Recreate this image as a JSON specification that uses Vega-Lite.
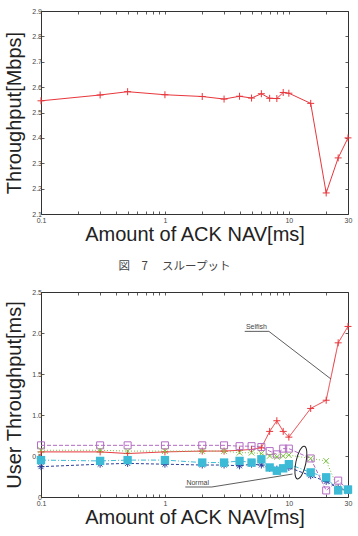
{
  "$schema": "https://vega.github.io/schema/vega-lite/v6.json",
  "background": "white",
  "padding": {"left": 4, "top": 6, "right": 4, "bottom": 4},
  "spacing": 78,
  "bounds": "flush",
  "config": {
    "view": {"stroke": "#333", "strokeWidth": 1},
    "axis": {
      "grid": false,
      "domain": false,
      "labelFont": "Liberation Sans",
      "labelFontSize": 7,
      "labelColor": "#444",
      "labelPadding": 5,
      "labelFlush": false,
      "labelOverlap": false,
      "tickColor": "#333",
      "tickSize": -3,
      "tickWidth": 0.8,
      "titleFont": "Liberation Sans",
      "titleFontSize": 20,
      "titleFontWeight": "normal",
      "titleColor": "#222"
    },
    "axisX": {"titlePadding": 1, "labelPadding": 5},
    "axisY": {"titlePadding": 7, "labelPadding": 2.5}
  },
  "vconcat": [
    {
      "width": 307,
      "height": 203,
      "data": {
        "values": [
          {"nav": 0.1, "thr": 2.546},
          {"nav": 0.3, "thr": 2.569},
          {"nav": 0.5, "thr": 2.582},
          {"nav": 1, "thr": 2.570},
          {"nav": 2, "thr": 2.563},
          {"nav": 3, "thr": 2.553},
          {"nav": 4, "thr": 2.564},
          {"nav": 5, "thr": 2.557},
          {"nav": 6, "thr": 2.574},
          {"nav": 7, "thr": 2.556},
          {"nav": 8, "thr": 2.555},
          {"nav": 9, "thr": 2.579},
          {"nav": 10, "thr": 2.576},
          {"nav": 15, "thr": 2.536},
          {"nav": 20, "thr": 2.183},
          {"nav": 25, "thr": 2.321},
          {"nav": 30, "thr": 2.400}
        ]
      },
      "layer": [
        {
          "mark": {"type": "line", "color": "#e8363c", "strokeWidth": 1},
          "encoding": {
            "x": {
              "field": "nav", "type": "quantitative",
              "scale": {"type": "log", "domain": [0.1, 30], "nice": false},
              "axis": {
                "title": "Amount of ACK NAV[ms]",
                "values": [0.1, 0.2, 0.3, 0.4, 0.5, 0.6, 0.7, 0.8, 0.9, 1, 2, 3, 4, 5, 6, 7, 8, 9, 10, 20, 30],
                "labelExpr": "datum.value == 0.1 ? '0.1' : datum.value == 1 ? '1' : datum.value == 10 ? '10' : datum.value == 30 ? '30' : ''"
              }
            },
            "y": {
              "field": "thr", "type": "quantitative",
              "scale": {"domain": [2.1, 2.9], "nice": false, "zero": false},
              "axis": {
                "title": "Throughput[Mbps]",
                "values": [2.1, 2.2, 2.3, 2.4, 2.5, 2.6, 2.7, 2.8, 2.9],
                "labelExpr": "format(datum.value, '.1f')"
              }
            }
          }
        },
        {
          "mark": {"type": "point", "shape": "M-1,0H1M0,-1V1", "filled": false, "size": 49, "color": "#e8363c", "strokeWidth": 1, "opacity": 1},
          "encoding": {
            "x": {
              "field": "nav", "type": "quantitative",
              "axis": {"orient": "top", "labels": false, "title": null, "values": [0.1, 0.2, 0.3, 0.4, 0.5, 0.6, 0.7, 0.8, 0.9, 1, 2, 3, 4, 5, 6, 7, 8, 9, 10, 20, 30]}
            },
            "y": {
              "field": "thr", "type": "quantitative",
              "axis": {"orient": "right", "labels": false, "title": null, "values": [2.1, 2.2, 2.3, 2.4, 2.5, 2.6, 2.7, 2.8, 2.9]}
            }
          }
        }
      ],
      "resolve": {"axis": {"x": "independent", "y": "independent"}}
    },
    {
      "width": 307,
      "height": 205,
      "title": {
        "text": "図　7　 スループット",
        "orient": "top",
        "anchor": "middle",
        "dx": -20,
        "offset": 16,
        "font": "Noto Sans CJK JP",
        "fontSize": 11.5,
        "fontWeight": "normal",
        "color": "#444"
      },
      "data": {
        "values": [
          {"nav": 0.1, "node": "Selfish", "thr": 0.55},
          {"nav": 0.3, "node": "Selfish", "thr": 0.55},
          {"nav": 0.5, "node": "Selfish", "thr": 0.53},
          {"nav": 1, "node": "Selfish", "thr": 0.55},
          {"nav": 2, "node": "Selfish", "thr": 0.56},
          {"nav": 3, "node": "Selfish", "thr": 0.56},
          {"nav": 4, "node": "Selfish", "thr": 0.57},
          {"nav": 5, "node": "Selfish", "thr": 0.58},
          {"nav": 6, "node": "Selfish", "thr": 0.60},
          {"nav": 7, "node": "Selfish", "thr": 0.80},
          {"nav": 8, "node": "Selfish", "thr": 0.93},
          {"nav": 9, "node": "Selfish", "thr": 0.80},
          {"nav": 10, "node": "Selfish", "thr": 0.73},
          {"nav": 15, "node": "Selfish", "thr": 1.08},
          {"nav": 20, "node": "Selfish", "thr": 1.18},
          {"nav": 25, "node": "Selfish", "thr": 1.88},
          {"nav": 30, "node": "Selfish", "thr": 2.08},

          {"nav": 0.1, "node": "Normal 1", "thr": 0.63},
          {"nav": 0.3, "node": "Normal 1", "thr": 0.63},
          {"nav": 0.5, "node": "Normal 1", "thr": 0.63},
          {"nav": 1, "node": "Normal 1", "thr": 0.63},
          {"nav": 2, "node": "Normal 1", "thr": 0.63},
          {"nav": 3, "node": "Normal 1", "thr": 0.63},
          {"nav": 4, "node": "Normal 1", "thr": 0.62},
          {"nav": 5, "node": "Normal 1", "thr": 0.62},
          {"nav": 6, "node": "Normal 1", "thr": 0.61},
          {"nav": 7, "node": "Normal 1", "thr": 0.56},
          {"nav": 8, "node": "Normal 1", "thr": 0.52},
          {"nav": 9, "node": "Normal 1", "thr": 0.59},
          {"nav": 10, "node": "Normal 1", "thr": 0.59},
          {"nav": 15, "node": "Normal 1", "thr": 0.47},
          {"nav": 20, "node": "Normal 1", "thr": 0.08},
          {"nav": 25, "node": "Normal 1", "thr": 0.20},
          {"nav": 30, "node": "Normal 1", "thr": 0.09},

          {"nav": 0.1, "node": "Normal 2", "thr": 0.57},
          {"nav": 0.3, "node": "Normal 2", "thr": 0.57},
          {"nav": 0.5, "node": "Normal 2", "thr": 0.56},
          {"nav": 1, "node": "Normal 2", "thr": 0.56},
          {"nav": 2, "node": "Normal 2", "thr": 0.56},
          {"nav": 3, "node": "Normal 2", "thr": 0.56},
          {"nav": 4, "node": "Normal 2", "thr": 0.54},
          {"nav": 5, "node": "Normal 2", "thr": 0.54},
          {"nav": 6, "node": "Normal 2", "thr": 0.53},
          {"nav": 7, "node": "Normal 2", "thr": 0.50},
          {"nav": 8, "node": "Normal 2", "thr": 0.49},
          {"nav": 9, "node": "Normal 2", "thr": 0.50},
          {"nav": 10, "node": "Normal 2", "thr": 0.51},
          {"nav": 15, "node": "Normal 2", "thr": 0.47},
          {"nav": 20, "node": "Normal 2", "thr": 0.44},
          {"nav": 25, "node": "Normal 2", "thr": 0.10},
          {"nav": 30, "node": "Normal 2", "thr": 0.07},

          {"nav": 0.1, "node": "Normal 3", "thr": 0.45},
          {"nav": 0.3, "node": "Normal 3", "thr": 0.44},
          {"nav": 0.5, "node": "Normal 3", "thr": 0.45},
          {"nav": 1, "node": "Normal 3", "thr": 0.45},
          {"nav": 2, "node": "Normal 3", "thr": 0.42},
          {"nav": 3, "node": "Normal 3", "thr": 0.42},
          {"nav": 4, "node": "Normal 3", "thr": 0.44},
          {"nav": 5, "node": "Normal 3", "thr": 0.42},
          {"nav": 6, "node": "Normal 3", "thr": 0.46},
          {"nav": 7, "node": "Normal 3", "thr": 0.36},
          {"nav": 8, "node": "Normal 3", "thr": 0.32},
          {"nav": 9, "node": "Normal 3", "thr": 0.35},
          {"nav": 10, "node": "Normal 3", "thr": 0.40},
          {"nav": 15, "node": "Normal 3", "thr": 0.30},
          {"nav": 20, "node": "Normal 3", "thr": 0.24},
          {"nav": 25, "node": "Normal 3", "thr": 0.08},
          {"nav": 30, "node": "Normal 3", "thr": 0.09},

          {"nav": 0.1, "node": "Normal 4", "thr": 0.37},
          {"nav": 0.3, "node": "Normal 4", "thr": 0.40},
          {"nav": 0.5, "node": "Normal 4", "thr": 0.41},
          {"nav": 1, "node": "Normal 4", "thr": 0.40},
          {"nav": 2, "node": "Normal 4", "thr": 0.39},
          {"nav": 3, "node": "Normal 4", "thr": 0.39},
          {"nav": 4, "node": "Normal 4", "thr": 0.38},
          {"nav": 5, "node": "Normal 4", "thr": 0.40},
          {"nav": 6, "node": "Normal 4", "thr": 0.39},
          {"nav": 7, "node": "Normal 4", "thr": 0.35},
          {"nav": 8, "node": "Normal 4", "thr": 0.34},
          {"nav": 9, "node": "Normal 4", "thr": 0.35},
          {"nav": 10, "node": "Normal 4", "thr": 0.36},
          {"nav": 15, "node": "Normal 4", "thr": 0.26},
          {"nav": 20, "node": "Normal 4", "thr": 0.19},
          {"nav": 25, "node": "Normal 4", "thr": 0.11},
          {"nav": 30, "node": "Normal 4", "thr": 0.08}
        ]
      },
      "layer": [
        {
          "mark": {"type": "line", "strokeWidth": 1},
          "encoding": {
            "x": {
              "field": "nav", "type": "quantitative",
              "scale": {"type": "log", "domain": [0.1, 30], "nice": false},
              "axis": {
                "title": "Amount of ACK NAV[ms]",
                "values": [0.1, 0.2, 0.3, 0.4, 0.5, 0.6, 0.7, 0.8, 0.9, 1, 2, 3, 4, 5, 6, 7, 8, 9, 10, 20, 30],
                "labelExpr": "datum.value == 0.1 ? '0.1' : datum.value == 1 ? '1' : datum.value == 10 ? '10' : datum.value == 30 ? '30' : ''"
              }
            },
            "y": {
              "field": "thr", "type": "quantitative",
              "scale": {"domain": [0, 2.5], "nice": false},
              "axis": {
                "title": "User Throughput[ms]",
                "values": [0, 0.5, 1, 1.5, 2, 2.5],
                "labelExpr": "datum.value == 0 ? '0' : format(datum.value, '.1f')"
              }
            },
            "color": {
              "field": "node", "type": "nominal", "legend": null,
              "scale": {
                "domain": ["Selfish", "Normal 1", "Normal 2", "Normal 3", "Normal 4"],
                "range": ["#e8363c", "#b46cc4", "#7cc444", "#3dbbd6", "#2a3f9a"]
              }
            },
            "strokeDash": {
              "field": "node", "type": "nominal", "legend": null,
              "scale": {
                "domain": ["Selfish", "Normal 1", "Normal 2", "Normal 3", "Normal 4"],
                "range": [[1, 0], [4, 2], [1, 2], [5, 2, 1, 2], [3, 2]]
              }
            }
          }
        },
        {
          "transform": [{"filter": "datum.node != 'Normal 3'"}],
          "mark": {"type": "point", "filled": false, "size": 49, "strokeWidth": 1, "opacity": 1},
          "encoding": {
            "x": {
              "field": "nav", "type": "quantitative",
              "axis": {"orient": "top", "labels": false, "title": null, "values": [0.1, 0.2, 0.3, 0.4, 0.5, 0.6, 0.7, 0.8, 0.9, 1, 2, 3, 4, 5, 6, 7, 8, 9, 10, 20, 30]}
            },
            "y": {
              "field": "thr", "type": "quantitative",
              "axis": {"orient": "right", "labels": false, "title": null, "values": [0, 0.5, 1, 1.5, 2, 2.5]}
            },
            "color": {"field": "node", "type": "nominal", "legend": null},
            "shape": {
              "field": "node", "type": "nominal", "legend": null,
              "scale": {
                "domain": ["Selfish", "Normal 1", "Normal 2", "Normal 4"],
                "range": [
                  "M-1,0H1M0,-1V1",
                  "M-1,-1H1V1H-1Z",
                  "M-0.8,-0.8L0.8,0.8M-0.8,0.8L0.8,-0.8",
                  "M-1,0H1M0,-1V1M-0.7,-0.7L0.7,0.7M-0.7,0.7L0.7,-0.7"
                ]
              }
            }
          }
        },
        {
          "transform": [{"filter": "datum.node == 'Normal 3'"}],
          "mark": {"type": "square", "size": 70, "color": "#3dbbd6", "opacity": 1},
          "encoding": {
            "x": {"field": "nav", "type": "quantitative", "axis": null},
            "y": {"field": "thr", "type": "quantitative", "axis": null}
          }
        },
        {
          "data": {"values": [{}]},
          "layer": [
            {
              "mark": {"type": "rule", "color": "#333", "strokeWidth": 0.8},
              "encoding": {
                "x": {"datum": 4.4, "type": "quantitative", "axis": null},
                "x2": {"datum": 6.9},
                "y": {"datum": 2.02, "type": "quantitative", "axis": null},
                "y2": {"datum": 2.02}
              }
            },
            {
              "mark": {"type": "rule", "color": "#333", "strokeWidth": 0.8},
              "encoding": {
                "x": {"datum": 6.9, "type": "quantitative", "axis": null},
                "x2": {"datum": 21.8},
                "y": {"datum": 2.02, "type": "quantitative", "axis": null},
                "y2": {"datum": 1.44}
              }
            },
            {
              "mark": {"type": "text", "text": "Selfish", "align": "left", "baseline": "alphabetic", "font": "Liberation Sans", "fontSize": 7, "color": "#444"},
              "encoding": {
                "x": {"datum": 4.5, "type": "quantitative", "axis": null},
                "y": {"datum": 2.05, "type": "quantitative", "axis": null}
              }
            },
            {
              "mark": {"type": "rule", "color": "#333", "strokeWidth": 0.8},
              "encoding": {
                "x": {"datum": 1.46, "type": "quantitative", "axis": null},
                "x2": {"datum": 2.39},
                "y": {"datum": 0.122, "type": "quantitative", "axis": null},
                "y2": {"datum": 0.122}
              }
            },
            {
              "mark": {"type": "rule", "color": "#333", "strokeWidth": 0.8},
              "encoding": {
                "x": {"datum": 2.39, "type": "quantitative", "axis": null},
                "x2": {"datum": 10.7},
                "y": {"datum": 0.122, "type": "quantitative", "axis": null},
                "y2": {"datum": 0.28}
              }
            },
            {
              "mark": {"type": "text", "text": "Normal", "align": "left", "baseline": "alphabetic", "font": "Liberation Sans", "fontSize": 7, "color": "#444"},
              "encoding": {
                "x": {"datum": 1.49, "type": "quantitative", "axis": null},
                "y": {"datum": 0.152, "type": "quantitative", "axis": null}
              }
            },
            {
              "mark": {"type": "point", "shape": "M0,-1A0.3,1,0,1,1,0,1A0.3,1,0,1,1,0,-1Z", "size": 1115, "angle": 12, "filled": false, "color": "#222", "strokeWidth": 1, "opacity": 1},
              "encoding": {
                "x": {"datum": 12.5, "type": "quantitative", "axis": null},
                "y": {"datum": 0.42, "type": "quantitative", "axis": null}
              }
            }
          ]
        }
      ],
      "resolve": {"axis": {"x": "independent", "y": "independent"}}
    }
  ]
}
